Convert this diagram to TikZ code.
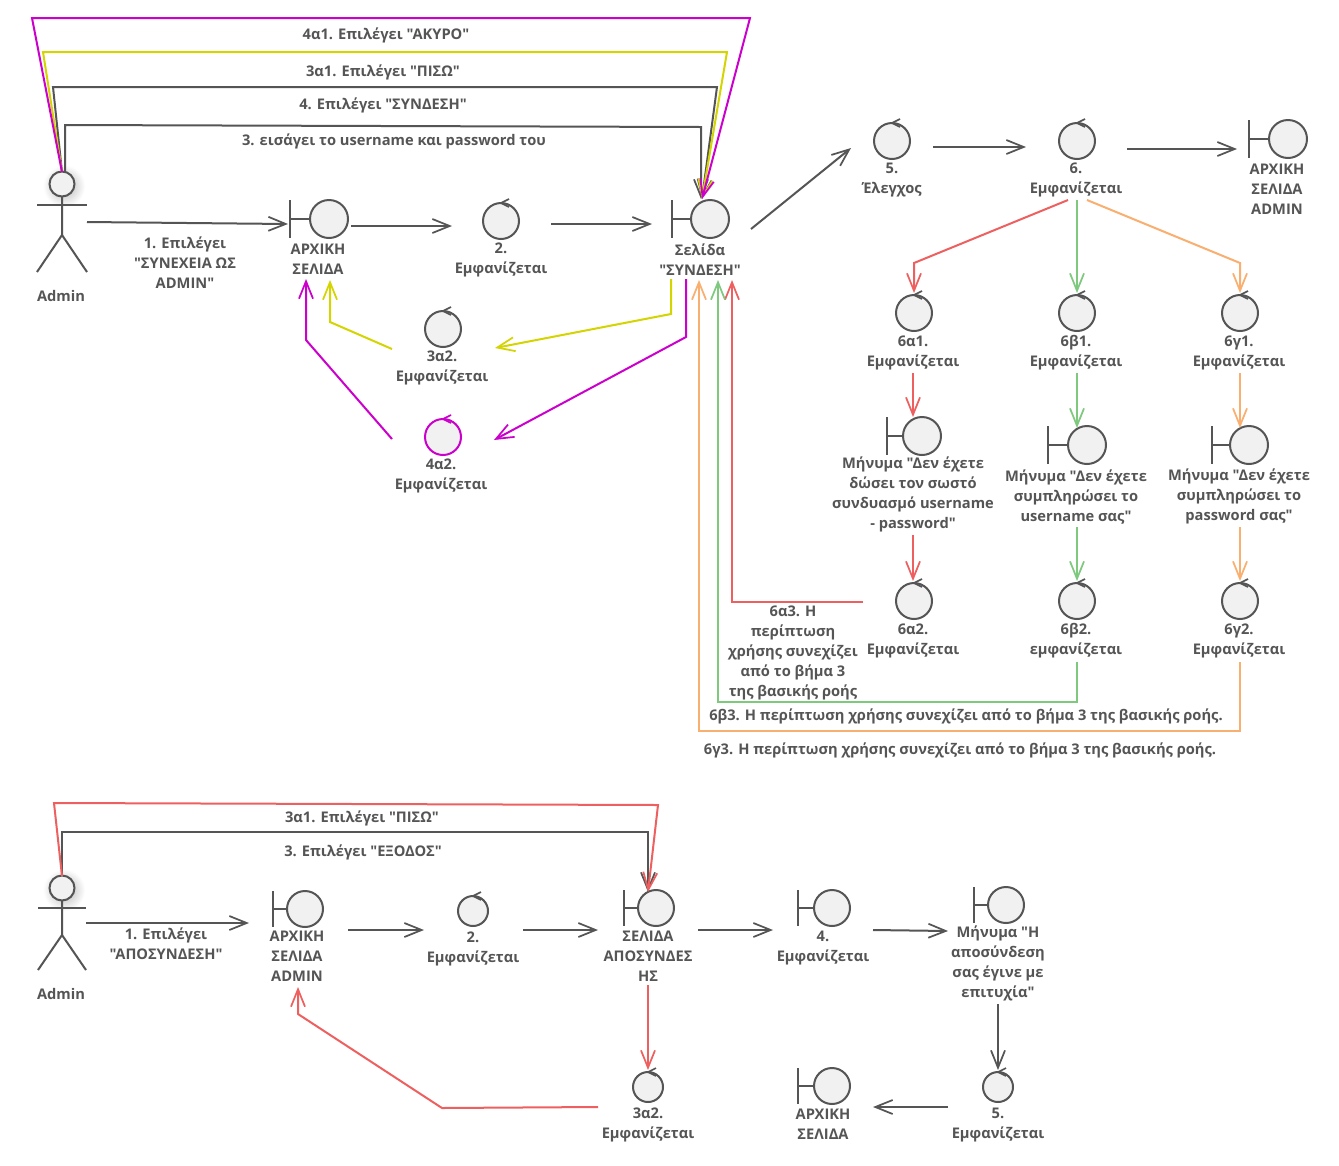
\documentclass[tikz,border=0pt]{standalone}
\usepackage{fontspec}
\newfontfamily\labelfont{Open Sans}
\usetikzlibrary{arrows.meta,calc}
\definecolor{ink}{HTML}{555555}
\definecolor{shapefill}{HTML}{F1F1F1}
\definecolor{cmag}{HTML}{CC00CC}
\definecolor{cyel}{HTML}{D4D400}
\definecolor{cred}{HTML}{EE6060}
\definecolor{cgrn}{HTML}{7FC97F}
\definecolor{cora}{HTML}{F8AF6F}
\tikzset{
  link/.style={draw=#1,line width=1.5pt,line join=miter,-{Straight Barb[length=13pt,width=10.5pt,line width=1.3pt]}},
  link/.default=ink,
  txt/.style={text=ink,align=center,inner sep=0pt,yshift=-1.2pt,font=\labelfont\fontsize{11}{15}\selectfont\bfseries},
  ball/.style={circle,draw=ink,fill=shapefill,line width=1.5pt,inner sep=0pt,outer sep=0pt},
  part/.style={draw=ink,line width=1.5pt}
}
% name, x, y, radius, colour
\newcommand{\ctrlnode}[5]{%
  \node[ball,draw=#5,minimum size=#4*1.5pt] (#1) at (#2,#3) {};
  \draw[part,draw=#5,line width=1.2pt] ($(#1)+(8,{-#4-4})$) -- ($(#1)+(0,-#4)$) -- ($(#1)+(8,{-#4+4})$);
}
% name, x, y, radius, bar offset from centre
\newcommand{\bndnode}[5]{%
  \node[ball,minimum size=#4*1.5pt] (#1) at (#2,#3) {};
  \draw[part] ($(#1)+(-#5,{-#4})$) -- ($(#1)+(-#5,#4)$);
  \draw[part] ($(#1)+(-#5,0)$) -- (#1.west);
}
% name, x, y, half shoulder width, arm dy, hip dy, foot dy
\newcommand{\actornode}[7]{%
  \shade[inner color=black!30,outer color=white] (#2+2,#3+2) circle[radius=21];
  \node[ball,minimum size=18.75pt] (#1) at (#2,#3) {};
  \draw[part] (#1.south) -- ($(#1)+(0,#6)$) -- ($(#1)+(-#4,#7)$);
  \draw[part] ($(#1)+(0,#6)$) -- ($(#1)+(#4,#7)$);
  \draw[part] ($(#1)+(-#4,#5)$) -- ($(#1)+(#4,#5)$);
}
\begin{document}
\begin{tikzpicture}[x=0.75pt,y=-0.75pt]
\useasboundingbox[fill=white] (0,0) rectangle (1339,1165);
% ---- top diagram: shapes
\actornode{a1}{62}{184}{25}{21}{51}{88}
\bndnode{b1}{329}{219}{19}{39}
\ctrlnode{c2}{501}{221}{18}{ink}
\bndnode{b2}{710}{219}{19}{38}
\ctrlnode{c5}{892}{141}{18}{ink}
\ctrlnode{c6}{1077}{141}{18}{ink}
\bndnode{b3}{1288}{139}{19}{39}
\ctrlnode{c3}{443}{329}{18}{ink}
\ctrlnode{c4}{443}{437}{18}{cmag}
\ctrlnode{c6a}{914}{313}{18}{ink}
\ctrlnode{c6b}{1077}{313}{18}{ink}
\ctrlnode{c6g}{1240}{313}{18}{ink}
\bndnode{b6a}{922}{436}{19}{35}
\bndnode{b6b}{1087}{445}{19}{39}
\bndnode{b6g}{1249}{445}{19}{37}
\ctrlnode{c7a}{914}{601}{18}{ink}
\ctrlnode{c7b}{1077}{601}{18}{ink}
\ctrlnode{c7g}{1240}{601}{18}{ink}
% ---- top diagram: texts
\node[txt] (ta1) at (61,294) {Admin};
\node[txt] (tb1) at (318,258) {ΑΡΧΙΚΗ\\ΣΕΛΙΔΑ};
\node[txt] (tc2) at (501,258) {2.\\Εμφανίζεται};
\node[txt] (tb2) at (700,258) {Σελίδα\\"ΣΥΝΔΕΣΗ"};
\node[txt] (tc5) at (892,178) {5.\\Έλεγχος};
\node[txt] (tc6) at (1076,178) {6.\\Εμφανίζεται};
\node[txt] (tb3) at (1277,188) {ΑΡΧΙΚΗ\\ΣΕΛΙΔΑ\\ADMIN};
\node[txt] (tc3) at (442,366) {3α2.\\Εμφανίζεται};
\node[txt] (tc4) at (441,474) {4α2.\\Εμφανίζεται};
\node[txt] (tc6a) at (913,351) {6α1.\\Εμφανίζεται};
\node[txt] (tc6b) at (1076,351) {6β1.\\Εμφανίζεται};
\node[txt] (tc6g) at (1239,351) {6γ1.\\Εμφανίζεται};
\node[txt] (tb6a) at (913,493) {Μήνυμα "Δεν έχετε\\δώσει τον σωστό\\συνδυασμό username\\- password"};
\node[txt] (tb6b) at (1076,495) {Μήνυμα "Δεν έχετε\\συμπληρώσει το\\username σας"};
\node[txt] (tb6g) at (1239,495) {Μήνυμα "Δεν έχετε\\συμπληρώσει το\\password σας"};
\node[txt] (tc7a) at (913,639) {6α2.\\Εμφανίζεται};
\node[txt] (tc7b) at (1076,639) {6β2.\\εμφανίζεται};
\node[txt] (tc7g) at (1239,639) {6γ2.\\Εμφανίζεται};
\node[txt] (l1) at (386,34) {4α1. Επιλέγει "ΑΚΥΡΟ"};
\node[txt] (l2) at (383,71) {3α1. Επιλέγει "ΠΙΣΩ"};
\node[txt] (l3) at (383,104) {4. Επιλέγει "ΣΥΝΔΕΣΗ"};
\node[txt] (l4) at (394,140) {3. εισάγει το username και password του};
\node[txt] (l5) at (185,261) {1. Επιλέγει\\"ΣΥΝΕΧΕΙΑ ΩΣ\\ADMIN"};
\node[txt] (l6) at (793,651) {6α3. Η\\περίπτωση\\χρήσης συνεχίζει\\από το βήμα 3\\της βασικής ροής};
\node[txt] (l7) at (966,715) {6β3. Η περίπτωση χρήσης συνεχίζει από το βήμα 3 της βασικής ροής.};
\node[txt] (l8) at (960,749) {6γ3. Η περίπτωση χρήσης συνεχίζει από το βήμα 3 της βασικής ροής.};
% ---- top diagram: connectors
\draw[link] ($(a1)+(25,38)$) -- ($(b1)+(-41,5)$);
\draw[link] ($(b1)+(22,7)$) -- ($(c2)+(-49,5)$);
\draw[link] ($(c2)+(50,3)$) -- ($(b2)+(-58,5)$);
\draw[link] ($(b2)+(41,10)$) -- ($(c5)+(-41,7)$);
\draw[link] ($(c5)+(41,6)$) -- ($(c6)+(-51,6)$);
\draw[link] ($(c6)+(50,8)$) -- ($(b3)+(-51,10)$);
\draw[link=cred] ($(c6)+(-9,59)$) -- ($(c6a)+(0,-50)$) -- ($(c6a)+(0,-20)$);
\draw[link=cgrn] ($(c6)+(0,59)$) -- ($(c6b)+(0,-20)$);
\draw[link=cora] ($(c6)+(10,59)$) -- ($(c6g)+(0,-50)$) -- ($(c6g)+(0,-20)$);
\draw[link] ($(a1)+(3,-12)$) -- ($(a1)+(3,-59)$) -- ($(b2)+(-9,-92)$) -- ($(b2)+(-9,-20)$);
\draw[link] ($(a1)+(0,-12)$) -- ($(a1)+(-9,-97)$) -- ($(b2)+(7,-132)$) -- ($(b2)+(-8,-20)$);
\draw[link=cyel] ($(a1)+(0,-12)$) -- ($(a1)+(-19,-132)$) -- ($(b2)+(17,-167)$) -- ($(b2)+(-8,-20)$);
\draw[link=cmag] ($(a1)+(0,-12)$) -- ($(a1)+(-30,-166)$) -- ($(b2)+(40,-201)$) -- ($(b2)+(-8,-20)$);
\draw[link=cyel] ($(b2)+(-39,60)$) -- ($(b2)+(-39,95)$) -- ($(c3)+(52,19)$);
\draw[link=cyel] ($(c3)+(-51,20)$) -- ($(b1)+(1,103)$) -- ($(b1)+(1,61)$);
\draw[link=cmag] ($(b2)+(-24,60)$) -- ($(b2)+(-24,118)$) -- ($(c4)+(51,3)$);
\draw[link=cmag] ($(c4)+(-51,2)$) -- ($(b1)+(-23,121)$) -- ($(b1)+(-23,60)$);
\draw[link=cred] ($(c7a)+(-51,1)$) -- ($(b2)+(22,383)$) -- ($(b2)+(22,61)$);
\draw[link=cgrn] ($(c7b)+(0,61)$) -- ($(c7b)+(0,101)$) -- ($(b2)+(8,483)$) -- ($(b2)+(8,61)$);
\draw[link=cora] ($(c7g)+(0,61)$) -- ($(c7g)+(0,130)$) -- ($(b2)+(-11,512)$) -- ($(b2)+(-11,61)$);
\draw[link=cred] ($(c6a)+(-1,60)$) -- ($(b6a)+(-9,-19)$);
\draw[link=cred] ($(b6a)+(-9,99)$) -- ($(c7a)+(-1,-20)$);
\draw[link=cgrn] ($(c6b)+(0,60)$) -- ($(b6b)+(-10,-17)$);
\draw[link=cgrn] ($(b6b)+(-10,82)$) -- ($(c7b)+(0,-20)$);
\draw[link=cora] ($(c6g)+(0,60)$) -- ($(b6g)+(-9,-17)$);
\draw[link=cora] ($(b6g)+(-9,82)$) -- ($(c7g)+(0,-20)$);
% ---- bottom diagram: shapes
\actornode{a2}{62}{888}{24}{20}{47}{82}
\bndnode{b4}{305}{909}{18}{32}
\ctrlnode{c8}{473}{911}{15}{ink}
\bndnode{b5}{656}{908}{18}{32}
\bndnode{b6}{832}{908}{18}{34}
\bndnode{b7}{1006}{905}{18}{32}
\ctrlnode{c9}{998}{1087}{15}{ink}
\bndnode{b8}{832}{1086}{18}{34}
\ctrlnode{c10}{648}{1087}{15}{ink}
% ---- bottom diagram: texts
\node[txt] (ta2) at (61,992) {Admin};
\node[txt] (tb4) at (297,955) {ΑΡΧΙΚΗ\\ΣΕΛΙΔΑ\\ADMIN};
\node[txt] (tc8) at (473,947) {2.\\Εμφανίζεται};
\node[txt] (tb5) at (648,955) {ΣΕΛΙΔΑ\\ΑΠΟΣΥΝΔΕΣ\\ΗΣ};
\node[txt] (tb6x) at (823,946) {4.\\Εμφανίζεται};
\node[txt] (tb7) at (998,962) {Μήνυμα "Η\\αποσύνδεση\\σας έγινε με\\επιτυχία"};
\node[txt] (tc9) at (998,1123) {5.\\Εμφανίζεται};
\node[txt] (tb8) at (823,1123) {ΑΡΧΙΚΗ\\ΣΕΛΙΔΑ};
\node[txt] (tc10) at (648,1123) {3α2.\\Εμφανίζεται};
\node[txt] (l9) at (362,817) {3α1. Επιλέγει "ΠΙΣΩ"};
\node[txt] (l10) at (363,851) {3. Επιλέγει "ΕΞΟΔΟΣ"};
\node[txt] (l11) at (166,942) {1. Επιλέγει\\"ΑΠΟΣΥΝΔΕΣΗ"};
% ---- bottom diagram: connectors
\draw[link] ($(a2)+(24,35)$) -- ($(b4)+(-56,14)$);
\draw[link] ($(b4)+(43,21)$) -- ($(c8)+(-49,19)$);
\draw[link] ($(c8)+(50,19)$) -- ($(b5)+(-58,22)$);
\draw[link] ($(b5)+(42,22)$) -- ($(b6)+(-59,22)$);
\draw[link] ($(b6)+(41,22)$) -- ($(b7)+(-58,26)$);
\draw[link] ($(b7)+(-8,99)$) -- ($(c9)+(0,-17)$);
\draw[link] ($(c9)+(-50,20)$) -- ($(b8)+(41,21)$);
\draw[link] ($(a2)+(0,-12)$) -- ($(a2)+(0,-56)$) -- ($(b5)+(-8,-76)$) -- ($(b5)+(-8,-16)$);
\draw[link=cred] ($(a2)+(0,-12)$) -- ($(a2)+(-8,-85)$) -- ($(b5)+(2,-103)$) -- ($(b5)+(-8,-16)$);
\draw[link=cred] ($(b5)+(-8,77)$) -- ($(c10)+(0,-17)$);
\draw[link=cred] ($(c10)+(-50,20)$) -- ($(c10)+(-206,21)$) -- ($(b4)+(-7,105)$) -- ($(b4)+(-7,78)$);
\end{tikzpicture}
\end{document}
